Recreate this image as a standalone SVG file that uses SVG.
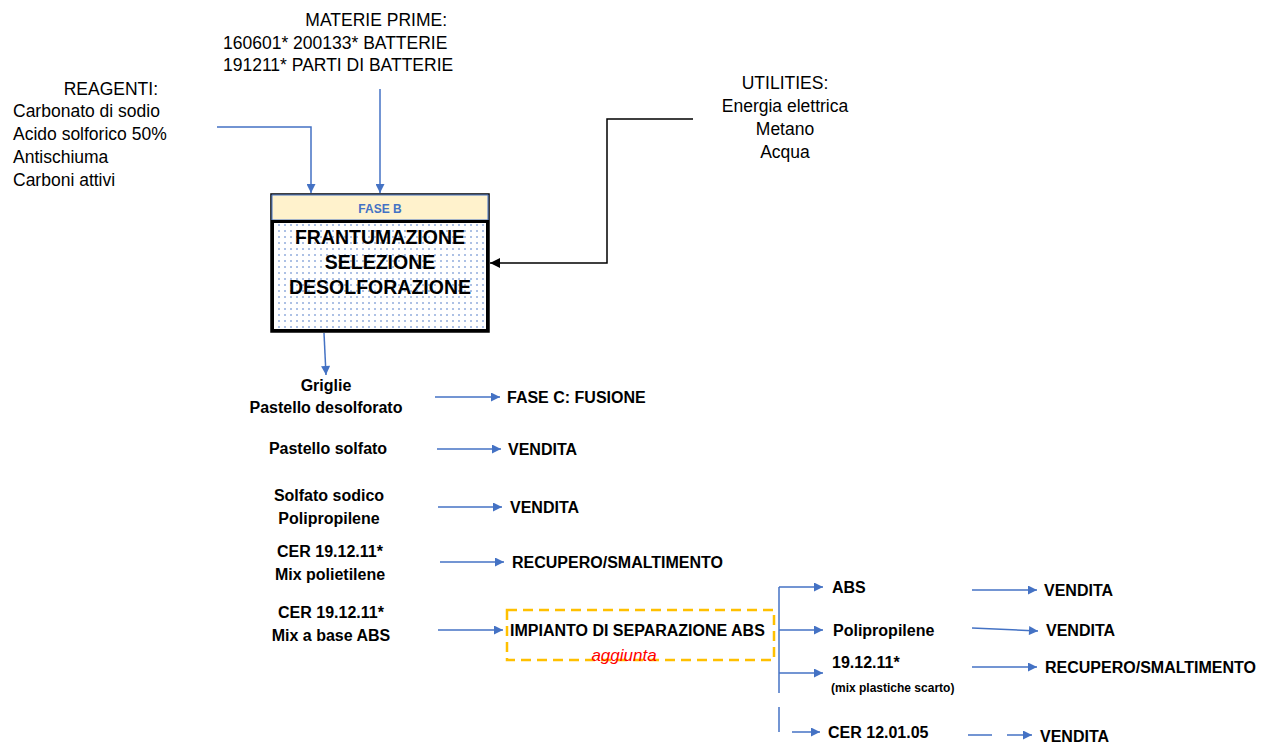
<svg xmlns="http://www.w3.org/2000/svg" width="1265" height="744" viewBox="0 0 1265 744">
<style>
.r{font-family:"Liberation Sans",Arial,sans-serif;font-size:17.5px;fill:#000}
.b{font-family:"Liberation Sans",Arial,sans-serif;font-size:16px;font-weight:bold;fill:#000}
.c{text-anchor:middle}
.e{text-anchor:end}
.bl{stroke:#4472C4;stroke-width:1.5;fill:none}
.bk{stroke:#000;stroke-width:1.5;fill:none}
</style>
<defs>
<marker id="ab" viewBox="0 0 10 10" refX="10" refY="5" markerWidth="10" markerHeight="9" markerUnits="userSpaceOnUse" orient="auto"><path d="M0,0 L10,5 L0,10 z" fill="#4472C4"/></marker>
<marker id="ak" viewBox="0 0 10 10" refX="10" refY="5" markerWidth="10" markerHeight="10" markerUnits="userSpaceOnUse" orient="auto"><path d="M0,0 L10,5 L0,10 z" fill="#000"/></marker>
<pattern id="dots" width="6" height="6" patternUnits="userSpaceOnUse"><circle cx="3" cy="3" r="0.8" fill="#4472C4"/></pattern>
</defs>
<rect width="1265" height="744" fill="#fff"/>

<g id="materie-prime">
<text class="r e" x="447" y="26">MATERIE PRIME:</text>
<text class="r" x="223" y="49">160601* 200133* BATTERIE</text>
<text class="r" x="223" y="71">191211* PARTI DI BATTERIE</text>
</g>
<g id="reagenti">
<text class="r e" x="158" y="95">REAGENTI:</text>
<text class="r" x="13" y="117">Carbonato di sodio</text>
<text class="r" x="13" y="140">Acido solforico 50%</text>
<text class="r" x="13" y="163">Antischiuma</text>
<text class="r" x="13" y="186">Carboni attivi</text>
</g>
<g id="utilities">
<text class="r c" x="785" y="89">UTILITIES:</text>
<text class="r c" x="785" y="112">Energia elettrica</text>
<text class="r c" x="785" y="135">Metano</text>
<text class="r c" x="785" y="158">Acqua</text>
</g>

<g id="fase-b">
<rect x="271" y="194" width="218" height="138" fill="#fff" stroke="#000" stroke-width="1.5"/>
<rect x="272" y="195" width="216" height="25" fill="#FFF2CC" stroke="#4472C4" stroke-width="1"/>
<text x="380" y="213" text-anchor="middle" font-family="Liberation Sans,Arial,sans-serif" font-size="12" font-weight="bold" fill="#4472C4">FASE B</text>
<rect x="272.5" y="221.5" width="215" height="109" fill="url(#dots)" stroke="#000" stroke-width="3"/>
<text class="b c" x="380" y="244" style="font-size:19.5px">FRANTUMAZIONE</text>
<text class="b c" x="380" y="269" style="font-size:19.5px">SELEZIONE</text>
<text class="b c" x="380" y="294" style="font-size:19.5px">DESOLFORAZIONE</text>
</g>

<g id="out-griglie"><text class="b c" x="326" y="391">Griglie</text><text class="b c" x="326" y="413">Pastello desolforato</text></g>
<g id="fase-c"><text class="b" x="507" y="403">FASE C: FUSIONE</text></g>
<g id="out-pastello-solfato"><text class="b c" x="328" y="454">Pastello solfato</text></g>
<g id="vendita-1"><text class="b" x="508" y="455">VENDITA</text></g>
<g id="out-solfato-sodico"><text class="b c" x="329" y="501">Solfato sodico</text><text class="b c" x="329" y="524">Polipropilene</text></g>
<g id="vendita-2"><text class="b" x="510" y="513">VENDITA</text></g>
<g id="out-mix-polietilene"><text class="b c" x="330" y="557">CER 19.12.11*</text><text class="b c" x="330" y="580">Mix polietilene</text></g>
<g id="recupero-1"><text class="b" x="512" y="568">RECUPERO/SMALTIMENTO</text></g>
<g id="out-mix-abs"><text class="b c" x="331" y="618">CER 19.12.11*</text><text class="b c" x="331" y="641">Mix a base ABS</text></g>

<g id="impianto-abs">
<rect x="507" y="610" width="267" height="50" fill="none" stroke="#FFC000" stroke-width="2.5" stroke-dasharray="10 6"/>
<text class="b" x="510" y="636">IMPIANTO DI SEPARAZIONE ABS</text>
<text x="624" y="661" text-anchor="middle" font-family="Liberation Sans,Arial,sans-serif" font-size="17" font-style="italic" fill="#FF0000">aggiunta</text>
</g>

<g id="abs"><text class="b" x="832" y="593">ABS</text></g>
<g id="vendita-abs"><text class="b" x="1044" y="596">VENDITA</text></g>
<g id="polipropilene"><text class="b" x="833" y="636">Polipropilene</text></g>
<g id="vendita-pp"><text class="b" x="1046" y="636">VENDITA</text></g>
<g id="mix-plastiche"><text class="b" x="832" y="668">19.12.11*</text><text class="b" x="831" y="692" style="font-size:12px">(mix plastiche scarto)</text></g>
<g id="recupero-2"><text class="b" x="1045" y="673">RECUPERO/SMALTIMENTO</text></g>
<g id="cer-120105"><text class="b" x="828" y="738">CER 12.01.05</text></g>
<g id="vendita-cer"><text class="b" x="1040" y="742">VENDITA</text></g>

<g id="connectors">
<path class="bl" d="M217,127 H311 V193" marker-end="url(#ab)"/>
<path class="bl" d="M380,89 V193" marker-end="url(#ab)"/>
<path class="bk" d="M693,119 H607 V263 H490" marker-end="url(#ak)"/>
<path class="bl" d="M324,333 L326,375" marker-end="url(#ab)"/>
<path class="bl" d="M435,397 H500" marker-end="url(#ab)"/>
<path class="bl" d="M437,449 H501" marker-end="url(#ab)"/>
<path class="bl" d="M438,507 H502" marker-end="url(#ab)"/>
<path class="bl" d="M440,562 H504" marker-end="url(#ab)"/>
<path class="bl" d="M438,630 H503" marker-end="url(#ab)"/>
<path class="bl" d="M779,587 V693"/>
<path class="bl" d="M779,707 V732"/>
<path class="bl" d="M779,587 H823" marker-end="url(#ab)"/>
<path class="bl" d="M779,630 H823" marker-end="url(#ab)"/>
<path class="bl" d="M779,673 H823" marker-end="url(#ab)"/>
<path class="bl" d="M792,732 H820" marker-end="url(#ab)"/>
<path class="bl" d="M972,590 H1037" marker-end="url(#ab)"/>
<path class="bl" d="M972,628 L1038,631" marker-end="url(#ab)"/>
<path class="bl" d="M972,667 H1037" marker-end="url(#ab)"/>
<path class="bl" d="M968,735 H992"/>
<path class="bl" d="M1007,735 H1032" marker-end="url(#ab)"/>
</g>
</svg>
